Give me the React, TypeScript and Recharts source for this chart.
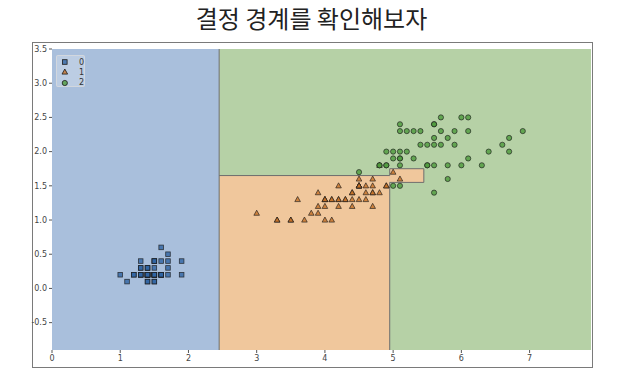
import React from 'react';
import {
  ScatterChart,
  Scatter,
  XAxis,
  YAxis,
  ReferenceArea,
  ReferenceLine,
  Legend
} from 'recharts';

// petal length / petal width per class
const setosaLength = [1.4, 1.4, 1.3, 1.5, 1.4, 1.7, 1.4, 1.5, 1.4, 1.5, 1.5, 1.6, 1.4, 1.1, 1.2, 1.5, 1.3, 1.4, 1.7, 1.5, 1.7, 1.5, 1.0, 1.7, 1.9, 1.6, 1.6, 1.5, 1.4, 1.6, 1.6, 1.5, 1.5, 1.4, 1.5, 1.2, 1.3, 1.4, 1.3, 1.5, 1.3, 1.3, 1.3, 1.6, 1.9, 1.4, 1.6, 1.4, 1.5, 1.4];
const setosaWidth = [0.2, 0.2, 0.2, 0.2, 0.2, 0.4, 0.3, 0.2, 0.2, 0.1, 0.2, 0.2, 0.1, 0.1, 0.2, 0.4, 0.4, 0.3, 0.3, 0.3, 0.2, 0.4, 0.2, 0.5, 0.2, 0.2, 0.4, 0.2, 0.2, 0.2, 0.2, 0.4, 0.1, 0.2, 0.2, 0.2, 0.2, 0.1, 0.2, 0.2, 0.3, 0.3, 0.2, 0.6, 0.4, 0.3, 0.2, 0.2, 0.2, 0.2];

const versicolorLength = [4.7, 4.5, 4.9, 4.0, 4.6, 4.5, 4.7, 3.3, 4.6, 3.9, 3.5, 4.2, 4.0, 4.7, 3.6, 4.4, 4.5, 4.1, 4.5, 3.9, 4.8, 4.0, 4.9, 4.7, 4.3, 4.4, 4.8, 5.0, 4.5, 3.5, 3.8, 3.7, 3.9, 5.1, 4.5, 4.5, 4.7, 4.4, 4.1, 4.0, 4.4, 4.6, 4.0, 3.3, 4.2, 4.2, 4.2, 4.3, 3.0, 4.1];
const versicolorWidth = [1.4, 1.5, 1.5, 1.3, 1.5, 1.3, 1.6, 1.0, 1.3, 1.4, 1.0, 1.5, 1.0, 1.4, 1.3, 1.4, 1.5, 1.0, 1.5, 1.1, 1.8, 1.3, 1.5, 1.2, 1.3, 1.4, 1.4, 1.7, 1.5, 1.0, 1.1, 1.0, 1.2, 1.6, 1.5, 1.6, 1.5, 1.3, 1.3, 1.3, 1.2, 1.4, 1.2, 1.0, 1.3, 1.2, 1.3, 1.3, 1.1, 1.3];

const virginicaLength = [6.0, 5.1, 5.9, 5.6, 5.8, 6.6, 4.5, 6.3, 5.8, 6.1, 5.1, 5.3, 5.5, 5.0, 5.1, 5.3, 5.5, 6.7, 6.9, 5.0, 5.7, 4.9, 6.7, 4.9, 5.7, 6.0, 4.8, 4.9, 5.6, 5.8, 6.1, 6.4, 5.6, 5.1, 5.6, 6.1, 5.6, 5.5, 4.8, 5.4, 5.6, 5.1, 5.1, 5.9, 5.7, 5.2, 5.0, 5.2, 5.4, 5.1];
const virginicaWidth = [2.5, 1.9, 2.1, 1.8, 2.2, 2.1, 1.7, 1.8, 1.8, 2.5, 2.0, 1.9, 2.1, 2.0, 2.4, 2.3, 1.8, 2.2, 2.3, 1.5, 2.3, 2.0, 2.0, 1.8, 2.1, 1.8, 1.8, 1.8, 2.1, 1.6, 1.9, 2.0, 2.2, 1.5, 1.4, 2.3, 2.4, 1.8, 1.8, 2.1, 2.4, 2.3, 1.9, 2.3, 2.5, 2.3, 1.9, 2.0, 2.3, 1.8];

const xTicks = [0, 1, 2, 3, 4, 5, 6, 7];
const yTicks = [-0.5, 0, 0.5, 1, 1.5, 2, 2.5, 3, 3.5];
const classLabels = ['0', '1', '2'];

// tree split thresholds
const X_MIN = 0;
const X_MAX = 7.9;
const Y_MIN = -0.9;
const Y_MAX = 3.5;
const LEN_1 = 2.45;
const LEN_2 = 4.95;
const LEN_3 = 5.45;
const WID_LOW = 1.55;
const WID_MID = 1.65;
const WID_HIGH = 1.75;

const REGION = { blue: '#a9bfdc', orange: '#f0c79c', green: '#b6d1a6' };
const MARK = { blue: '#2f64a3', orange: '#c46f26', green: '#4d9a3c' };
const EDGE = '#1a1a1a';

const zip = (xs: number[], ys: number[]) => xs.map((x, i) => ({ x, y: ys[i] }));

const SquareShape = (props: any) => {
  const { cx, cy } = props;
  return (
    <rect x={cx - 2.3} y={cy - 2.3} width={4.6} height={4.6}
      fill={MARK.blue} fillOpacity={0.8} stroke={EDGE} strokeOpacity={0.8} strokeWidth={0.8} />
  );
};

const TriangleShape = (props: any) => {
  const { cx, cy } = props;
  const pts = `${cx},${cy - 3} ${cx + 2.8},${cy + 2.1} ${cx - 2.8},${cy + 2.1}`;
  return (
    <polygon points={pts} fill={MARK.orange} fillOpacity={0.8}
      stroke={EDGE} strokeOpacity={0.8} strokeWidth={0.8} />
  );
};

const CircleShape = (props: any) => {
  const { cx, cy } = props;
  return (
    <circle cx={cx} cy={cy} r={2.6} fill={MARK.green} fillOpacity={0.8}
      stroke={EDGE} strokeOpacity={0.8} strokeWidth={0.8} />
  );
};

const LegendBox = () => {
  const icons = [
    <rect key="s" x={5.5} y={2.7} width={4.6} height={4.6} fill={MARK.blue} fillOpacity={0.8} stroke={EDGE} strokeWidth={0.8} />,
    <polygon key="t" points="7.8,2 10.6,7.1 5,7.1" fill={MARK.orange} fillOpacity={0.8} stroke={EDGE} strokeWidth={0.8} />,
    <circle key="c" cx={7.8} cy={5} r={2.6} fill={MARK.green} fillOpacity={0.8} stroke={EDGE} strokeWidth={0.8} />
  ];
  return (
    <div style={{
      width: 29, height: 32, boxSizing: 'border-box', padding: '1px 0 0 0',
      background: 'rgba(255,255,255,0.22)', border: '1px solid rgba(220,220,220,0.7)', borderRadius: 2
    }}>
      {classLabels.map((label, i) => (
        <div key={label} style={{ display: 'flex', alignItems: 'center', height: 10.3, fontSize: 8, color: '#333' }}>
          <svg width={16} height={10}>{icons[i]}</svg>
          <span style={{ marginLeft: 6 }}>{label}</span>
        </div>
      ))}
    </div>
  );
};

export default function App() {
  const setosa = zip(setosaLength, setosaWidth);
  const versicolor = zip(versicolorLength, versicolorWidth);
  const virginica = zip(virginicaLength, virginicaWidth);

  const border = { stroke: '#6e6e6e', strokeWidth: 1 };
  const seg = (x1: number, y1: number, x2: number, y2: number) => [{ x: x1, y: y1 }, { x: x2, y: y2 }];

  return (
    <div style={{ position: 'absolute', left: 0, top: 0, width: 617, height: 374, background: '#fff', fontFamily: '"DejaVu Sans", sans-serif' }}>
      <div style={{
        position: 'absolute', left: 0, top: 2, width: 623, textAlign: 'center',
        fontFamily: '"Noto Sans CJK KR", sans-serif', fontSize: 24, lineHeight: '32px', color: '#222'
      }}>
        결정 경계를 확인해보자
      </div>
      <div style={{
        position: 'absolute', left: 32, top: 42, width: 561, height: 326,
        boxSizing: 'border-box', border: '1.5px solid #7a7a7a'
      }} />
      <div style={{ position: 'absolute', left: 0, top: 0 }}>
        <ScatterChart width={617} height={374} margin={{ top: 49, right: 26, bottom: 0, left: 0 }}>
          <XAxis type="number" dataKey="x" domain={[X_MIN, X_MAX]} ticks={xTicks} allowDataOverflow
            height={24} tickSize={3} axisLine={false} tickLine={{ stroke: '#555' }}
            tick={{ fontSize: 8, fill: '#444' }} interval={0} />
          <YAxis type="number" dataKey="y" domain={[Y_MIN, Y_MAX]} ticks={yTicks} allowDataOverflow
            width={52} tickSize={3} axisLine={false} tickLine={{ stroke: '#555' }}
            tick={{ fontSize: 8, fill: '#444' }} interval={0}
            tickFormatter={(v: number) => v.toFixed(1)} />

          <ReferenceArea x1={X_MIN} x2={LEN_1} y1={Y_MIN} y2={Y_MAX} fill={REGION.blue} fillOpacity={1} stroke="none" />
          <ReferenceArea x1={LEN_1} x2={X_MAX} y1={Y_MIN} y2={Y_MAX} fill={REGION.green} fillOpacity={1} stroke="none" />
          <ReferenceArea x1={LEN_1} x2={LEN_2} y1={Y_MIN} y2={WID_MID} fill={REGION.orange} fillOpacity={1} stroke="none" />
          <ReferenceArea x1={LEN_2} x2={LEN_3} y1={WID_LOW} y2={WID_HIGH} fill={REGION.orange} fillOpacity={1} stroke="none" />

          <ReferenceLine segment={seg(LEN_1, Y_MIN, LEN_1, Y_MAX)} {...border} />
          <ReferenceLine segment={seg(LEN_1, WID_MID, LEN_2, WID_MID)} {...border} />
          <ReferenceLine segment={seg(LEN_2, WID_MID, LEN_2, WID_HIGH)} {...border} />
          <ReferenceLine segment={seg(LEN_2, WID_HIGH, LEN_3, WID_HIGH)} {...border} />
          <ReferenceLine segment={seg(LEN_3, WID_HIGH, LEN_3, WID_LOW)} {...border} />
          <ReferenceLine segment={seg(LEN_3, WID_LOW, LEN_2, WID_LOW)} {...border} />
          <ReferenceLine segment={seg(LEN_2, WID_LOW, LEN_2, Y_MIN)} {...border} />

          <Scatter name="0" data={setosa} shape={SquareShape} isAnimationActive={false} />
          <Scatter name="1" data={versicolor} shape={TriangleShape} isAnimationActive={false} />
          <Scatter name="2" data={virginica} shape={CircleShape} isAnimationActive={false} />

          <Legend layout="vertical" align="center" verticalAlign="middle"
            wrapperStyle={{ left: 56, top: 55, width: 29 }} content={() => <LegendBox />} />
        </ScatterChart>
      </div>
    </div>
  );
}
